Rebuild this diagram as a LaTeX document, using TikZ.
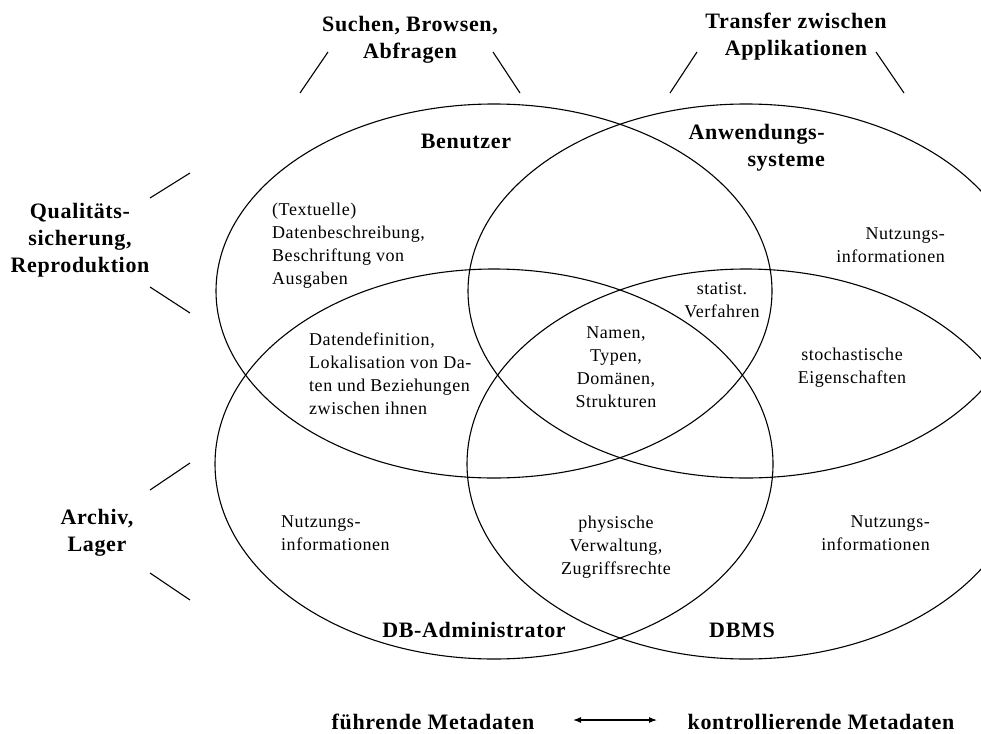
\documentclass[tikz,border=0pt]{standalone}
\usepackage{fontspec}
\setmainfont{Liberation Serif}[LetterSpace=3]
\usetikzlibrary{arrows.meta}
\begin{document}
\begin{tikzpicture}[x=1pt,y=-1pt,
  ring/.style={draw, line width=1.1pt},
  tick/.style={draw, line width=1.1pt},
  lbl/.style={font=\fontsize{18}{23}\selectfont, inner sep=0pt},
  role/.style={font=\fontsize{22}{27}\selectfont\bfseries, inner sep=0pt}]
\useasboundingbox (0,0) rectangle (981,733);
\clip (0,0) rectangle (981,733);

% the four overlapping areas
\draw[ring] (494,291) ellipse [x radius=278, y radius=187];
\draw[ring] (746,291) ellipse [x radius=278, y radius=187];
\draw[ring] (494,464) ellipse [x radius=279, y radius=195];
\draw[ring] (746,464) ellipse [x radius=279, y radius=195];

% outer task labels with their brackets
\node[role, align=center] (suchen) at (410,40) {Suchen, Browsen,\\Abfragen};
\draw[tick] (300,93) -- (328,52);
\draw[tick] (493,52) -- (520,93);

\node[role, align=center] (transfer) at (796,37) {Transfer zwischen\\Applikationen};
\draw[tick] (670,93) -- (697,52);
\draw[tick] (876,52) -- (904,93);

\node[role, align=center] (qual) at (80,240) {Qualitäts-\\sicherung,\\Reproduktion};
\draw[tick] (150,198) -- (190,173);
\draw[tick] (150,287) -- (190,313);

\node[role, align=center] (archiv) at (97,533) {Archiv,\\Lager};
\draw[tick] (150,490) -- (190,463);
\draw[tick] (150,573) -- (190,600);

% area names
\node[role] (benutzer) at (466,141) {Benutzer};
\node[role, align=right, anchor=east] (anwend) at (825,148) {Anwendungs-\\systeme};
\node[role] (dba) at (474,630) {DB-Administrator};
\node[role] (dbms) at (742,630) {DBMS};

% contents of the regions
\node[lbl, align=left, anchor=west] (textuell) at (272,246)
  {(Textuelle)\\Datenbeschreibung,\\Beschriftung von\\Ausgaben};
\node[lbl, align=right, anchor=east] (nutzA) at (945,245) {Nutzungs-\\informationen};
\node[lbl, align=center] (statist) at (722,300) {statist.\\Verfahren};
\node[lbl, align=left, anchor=west] (datdef) at (309,374)
  {Datendefinition,\\Lokalisation von Da-\\ten und Beziehungen\\zwischen ihnen};
\node[lbl, align=center] (namen) at (616,367) {Namen,\\Typen,\\Domänen,\\Strukturen};
\node[lbl, align=center] (stoch) at (852,368) {stochastische\\Eigenschaften};
\node[lbl, align=left, anchor=west] (nutzB) at (281,533) {Nutzungs-\\informationen};
\node[lbl, align=center] (phys) at (616,547) {physische\\Verwaltung,\\Zugriffsrechte};
\node[lbl, align=right, anchor=east] (nutzC) at (930,533) {Nutzungs-\\informationen};

% legend
\node[role] (fuehr) at (433,722) {führende Metadaten};
\node[role] (kontr) at (821,722) {kontrollierende Metadaten};
\coordinate (la) at (573,720);
\coordinate (lb) at (657,720);
\draw[line width=1.1pt, {Latex[length=8pt,width=6pt]}-{Latex[length=8pt,width=6pt]}] (la) -- (lb);
\end{tikzpicture}
\end{document}
